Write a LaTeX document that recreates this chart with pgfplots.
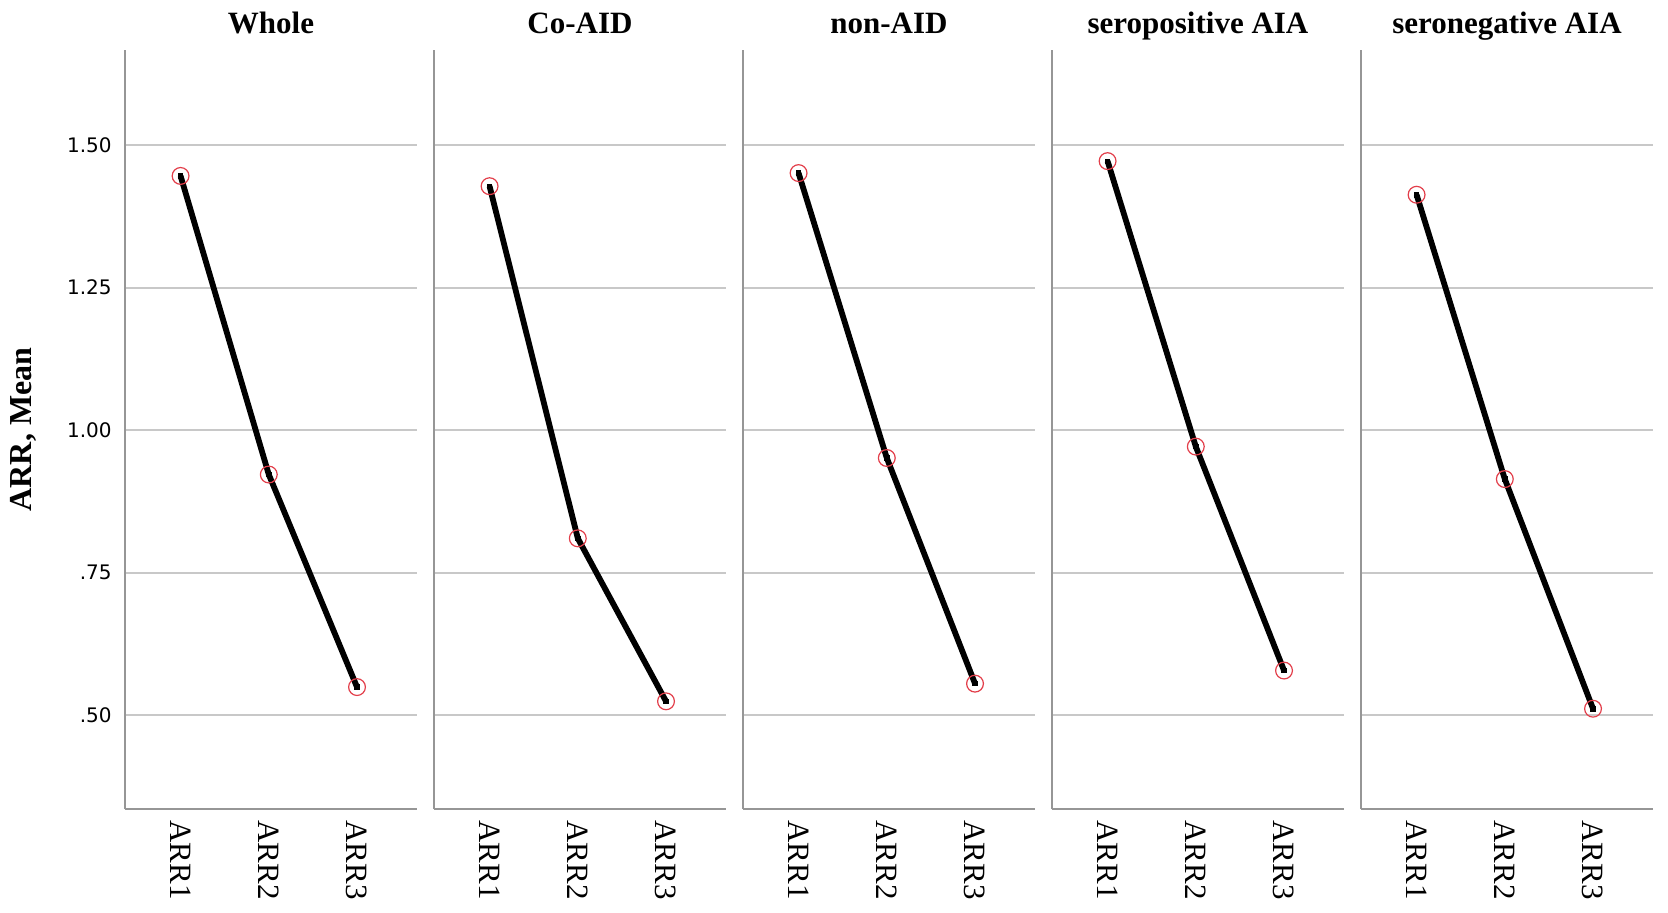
\documentclass[border=0pt]{standalone}
\usepackage{fontspec}
\setmainfont{Liberation Serif}
\newfontfamily\tickfont{DejaVu Sans}
\usepackage{pgfplots}
\pgfplotsset{compat=1.18}
\definecolor{circred}{RGB}{226,62,74}
\definecolor{gridc}{RGB}{200,200,200}
\definecolor{axc}{RGB}{150,150,150}
\pgfplotsset{
  panel/.style={
    scale only axis,
    width=146pt, height=379.5pt,
    anchor=south west,
    xmin=0.37, xmax=3.68,
    ymin=0.335, ymax=1.667,
    axis lines*=left,
    axis line style={axc, line width=0.8pt},
    xtick={1,2,3},
    xticklabels={ARR1,ARR2,ARR3},
    ytick={0.5,0.75,1,1.25,1.5},
    ymajorgrids,
    grid style={gridc, line width=1pt},
    major tick length=0pt,
    xticklabel style={rotate=-90, anchor=west, inner xsep=5.5pt, inner ysep=0pt,
      font=\fontsize{15.5}{18}\selectfont},
    title style={at={(0.5,1)}, anchor=base, inner sep=0pt, yshift=2.5pt,
      font=\bfseries\fontsize{15.5}{18}\selectfont},
    clip=false,
  },
  ptline/.style={black, line width=2.9pt, mark=none},
  ptdot/.style={only marks, mark=square*, mark size=1.1pt, black},
  ptcirc/.style={only marks, mark=o, mark size=4.2pt, circred, mark options={line width=0.6pt}},
}
\begin{document}
\begin{tikzpicture}[x=1pt,y=1pt]
\useasboundingbox (0,0) rectangle (834,456);
% Whole
\begin{axis}[panel, at={(62.5pt,51.5pt)}, title={Whole},
  yticklabels={.50,.75,1.00,1.25,1.50},
  yticklabel style={anchor=east, inner sep=0pt, xshift=-6.5pt, font=\tickfont\fontsize{10}{12}\selectfont},
  ylabel={ARR, Mean},
  ylabel style={at={(axis description cs:0,0.5)}, anchor=center, rotate=0, yshift=51pt, font=\bfseries\fontsize{16}{19}\selectfont}]
\addplot[ptline] coordinates {(1,1.446) (2,0.922) (3,0.549)};
\addplot[ptdot] coordinates {(1,1.446) (2,0.922) (3,0.549)};
\addplot[ptcirc] coordinates {(1,1.446) (2,0.922) (3,0.549)};
\end{axis}
% Co-AID
\begin{axis}[panel, at={(217pt,51.5pt)}, title={Co-AID}, yticklabels={}]
\addplot[ptline] coordinates {(1,1.428) (2,0.810) (3,0.524)};
\addplot[ptdot] coordinates {(1,1.428) (2,0.810) (3,0.524)};
\addplot[ptcirc] coordinates {(1,1.428) (2,0.810) (3,0.524)};
\end{axis}
% non-AID
\begin{axis}[panel, at={(371.5pt,51.5pt)}, title={non-AID}, yticklabels={}]
\addplot[ptline] coordinates {(1,1.451) (2,0.951) (3,0.555)};
\addplot[ptdot] coordinates {(1,1.451) (2,0.951) (3,0.555)};
\addplot[ptcirc] coordinates {(1,1.451) (2,0.951) (3,0.555)};
\end{axis}
% seropositive
\begin{axis}[panel, at={(526pt,51.5pt)}, title={seropositive AIA}, yticklabels={}]
\addplot[ptline] coordinates {(1,1.472) (2,0.971) (3,0.578)};
\addplot[ptdot] coordinates {(1,1.472) (2,0.971) (3,0.578)};
\addplot[ptcirc] coordinates {(1,1.472) (2,0.971) (3,0.578)};
\end{axis}
% seronegative
\begin{axis}[panel, at={(680.5pt,51.5pt)}, title={seronegative AIA}, yticklabels={}]
\addplot[ptline] coordinates {(1,1.413) (2,0.914) (3,0.511)};
\addplot[ptdot] coordinates {(1,1.413) (2,0.914) (3,0.511)};
\addplot[ptcirc] coordinates {(1,1.413) (2,0.914) (3,0.511)};
\end{axis}
\end{tikzpicture}
\end{document}
